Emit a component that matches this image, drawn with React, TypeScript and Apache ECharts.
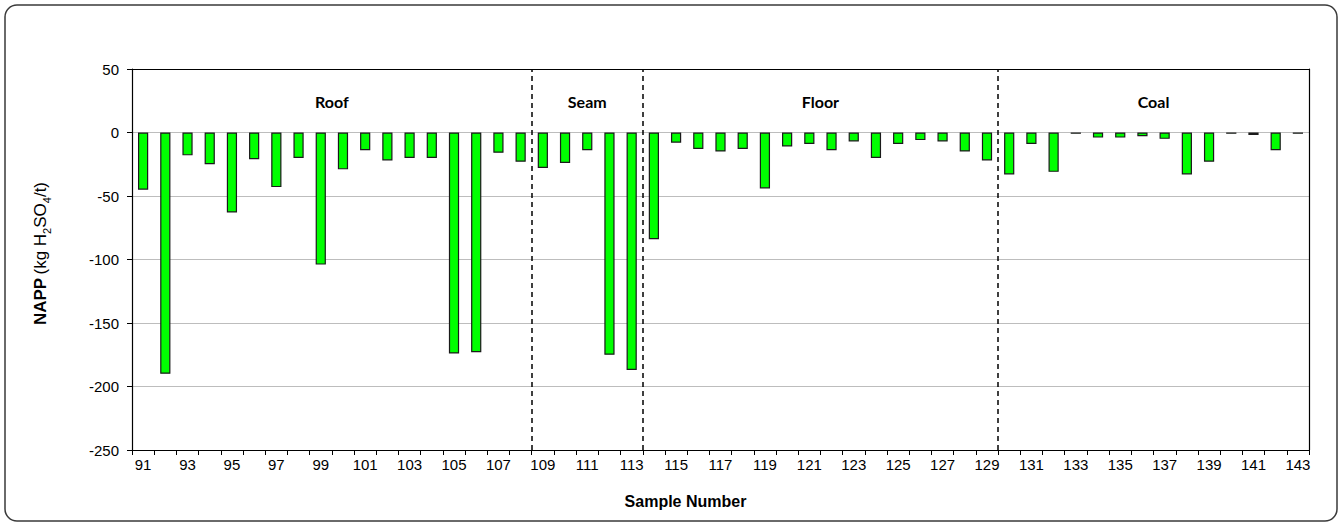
import React, { useEffect, useRef } from "react";
import * as echarts from "echarts";

const samples: string[] = [];
for (let s = 91; s <= 143; s++) samples.push(String(s));

const roofValues = [-45, -190, -18, -25, -63, -21, -43, -20, -104, -29, -14, -22, -20, -20, -174, -173, -16, -23];
const seamValues = [-28, -24, -14, -175, -187];
const floorValues = [-84, -8, -13, -15, -13, -44, -11, -9, -14, -7, -20, -9, -6, -7, -15, -22];
const coalValues = [-33, -9, -31, -1, -4, -4, -3, -5, -33, -23, -1, -2, -14, -1];

const sectionNames = ["Roof", "Seam", "Floor", "Coal"];
const sectionSizes = [roofValues.length, seamValues.length, floorValues.length, coalValues.length];

const yTicks = { min: -250, max: 50, interval: 50 };

export default function App() {
  const ref = useRef<HTMLDivElement>(null);
  useEffect(() => {
    if (!ref.current) return;
    const chart = echarts.init(ref.current, undefined, { renderer: "svg" });
    const values = [...roofValues, ...seamValues, ...floorValues, ...coalValues];
    const bounds: number[] = [0];
    sectionSizes.forEach((n, i) => bounds.push(bounds[i] + n));
    const areas = sectionNames.map((name, i) => [
      { name, xAxis: bounds[i] },
      { xAxis: bounds[i + 1] },
    ]);
    const separators = bounds.slice(1, bounds.length - 1).map((b) => ({ xAxis: b }));
    const font = "'Liberation Sans', Arial, sans-serif";
    chart.setOption({
      animation: false,
      backgroundColor: "#fff",
      textStyle: { fontFamily: font },
      graphic: [
        {
          type: "rect",
          shape: { x: 5, y: 5, width: 1332, height: 516, r: 12 },
          style: { fill: "none", stroke: "#3a3a3a", lineWidth: 1.5 },
          z: 100,
        },
      ],
      grid: { left: 132, right: 32, top: 69, bottom: 75, containLabel: false },
      xAxis: [
        {
          type: "category",
          data: samples,
          position: "bottom",
          axisLine: { onZero: false, lineStyle: { color: "#000", width: 1.2 } },
          axisTick: { show: true, interval: 0, length: 5, lineStyle: { color: "#000" } },
          axisLabel: { interval: 1, color: "#000", fontSize: 15, margin: 7, fontFamily: font },
          splitLine: { show: false },
          name: "Sample Number",
          nameLocation: "middle",
          nameGap: 43,
          nameTextStyle: {
            fontWeight: "bold",
            fontSize: 16,
            color: "#000",
            fontFamily: font,
            padding: [0, 70, 0, 0],
          },
        },
        {
          type: "value",
          min: 0,
          max: sectionSizes.reduce((a, b) => a + b, 0),
          position: "top",
          axisLine: { show: true, onZero: false, lineStyle: { color: "#000", width: 1.2 } },
          axisTick: { show: false },
          axisLabel: { show: false },
          splitLine: { show: false },
        },
      ],
      yAxis: [
        {
          type: "value",
          min: yTicks.min,
          max: yTicks.max,
          interval: yTicks.interval,
          axisLine: { show: true, onZero: false, lineStyle: { color: "#000", width: 1.2 } },
          axisTick: { show: true, length: 5, lineStyle: { color: "#000" } },
          axisLabel: { color: "#000", fontSize: 15, margin: 13, fontFamily: font },
          splitLine: { show: true, lineStyle: { color: "#bdbdbd", width: 1 } },
          name: "{b|NAPP} {n|(kg H}{s|2}{n|SO}{s|4}{n|/t)}",
          nameLocation: "middle",
          nameRotate: 90,
          nameGap: 80,
          nameTextStyle: {
            padding: [0, 0, 0, 12],
            rich: {
              b: { fontWeight: "bold", fontSize: 17, color: "#000", fontFamily: font, lineHeight: 23 },
              n: { fontSize: 17, color: "#000", fontFamily: font, lineHeight: 23 },
              s: { fontSize: 11, color: "#000", fontFamily: font, verticalAlign: "bottom", lineHeight: 23 },
            },
          },
        },
        {
          type: "value",
          min: yTicks.min,
          max: yTicks.max,
          interval: yTicks.interval,
          position: "right",
          axisLine: { show: true, onZero: false, lineStyle: { color: "#000", width: 1.2 } },
          axisTick: { show: false },
          axisLabel: { show: false },
          splitLine: { show: false },
        },
      ],
      series: [
        {
          type: "bar",
          name: "NAPP",
          xAxisIndex: 0,
          yAxisIndex: 0,
          data: values,
          barWidth: "46%",
          itemStyle: { color: "#00ff00", borderColor: "#1a1a1a", borderWidth: 1.2 },
          z: 3,
        },
        {
          type: "line",
          name: "sections",
          xAxisIndex: 1,
          yAxisIndex: 0,
          data: [],
          silent: true,
          markArea: {
            silent: true,
            itemStyle: { color: "rgba(0,0,0,0)" },
            label: {
              show: true,
              position: "insideTop",
              distance: 24,
              fontFamily: "Lato, 'Open Sans', sans-serif",
              fontWeight: "bold",
              fontSize: 16,
              color: "#000",
            },
            data: areas,
          },
          markLine: {
            silent: true,
            symbol: ["none", "none"],
            label: { show: false },
            lineStyle: { color: "#000", type: [5, 4], width: 1.5 },
            data: separators,
          },
        },
      ],
    });
    return () => chart.dispose();
  }, []);
  return (
    <div
      ref={ref}
      style={{ position: "absolute", left: 0, top: 0, width: 1341, height: 525 }}
    />
  );
}
